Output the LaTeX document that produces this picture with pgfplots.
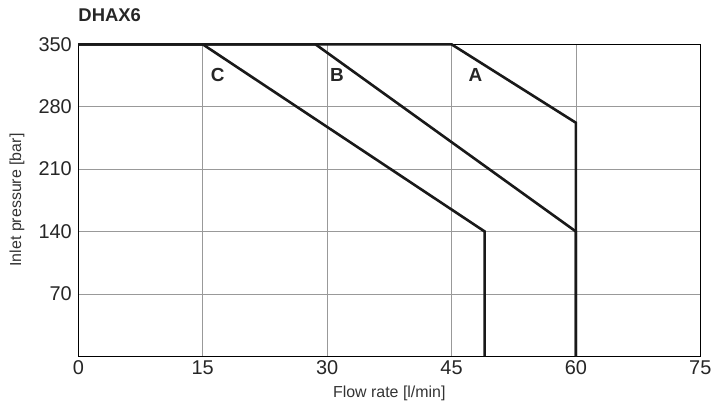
\documentclass[border=0pt]{standalone}
\usepackage{fontspec}
\setmainfont{Liberation Sans}
\usepackage{pgfplots}
\pgfplotsset{compat=1.18}
\begin{document}
\begin{tikzpicture}
\begin{axis}[
  at={(0,0)}, anchor=south west,
  scale only axis,
  width=622bp, height=312bp,
  xmin=0, xmax=75, ymin=0, ymax=350,
  xtick={0,15,30,45,60,75},
  ytick={70,140,210,280,350},
  /pgf/number format/assume math mode=true,
  tick label style={font=\fontsize{20}{21}\selectfont, text=black!85},
  major tick length=0pt,
  grid=major,
  major grid style={gray!80, line width=0.8bp},
  axis line style={black, line width=1.3bp},
  xticklabel style={yshift=-1bp},
  yticklabel style={xshift=-3bp},
  xlabel={Flow rate [l/min]},
  ylabel={Inlet pressure [bar]},
  label style={font=\fontsize{16}{17}\selectfont, text=black!80},
  xlabel style={at={(axis description cs:0.5,-0.1186)}, anchor=center},
  ylabel style={at={(axis description cs:-0.0986,0.501)}, anchor=center},
  clip=false,
]
\addplot[black!90, line width=2.6bp] coordinates {(0,350) (45,350) (60,262) (60,0)};
\addplot[black!90, line width=2.6bp] coordinates {(0,350) (28.6,350) (60,140) (60,0)};
\addplot[black!90, line width=2.6bp] coordinates {(0,350) (15,350) (49,140) (49,0)};
\node[font=\bfseries\fontsize{19}{20}\selectfont, text=black!85] at (axis cs:16.8,315.7) {C};
\node[font=\bfseries\fontsize{19}{20}\selectfont, text=black!85] at (axis cs:31.2,315.7) {B};
\node[font=\bfseries\fontsize{19}{20}\selectfont, text=black!85] at (axis cs:47.9,315.7) {A};
\node[font=\bfseries\fontsize{18.5}{19}\selectfont, text=black!85, anchor=west, inner sep=0pt] at (axis description cs:0.0,1.094) {DHAX6};
\end{axis}
\pgfresetboundingbox
\useasboundingbox (-78.3bp,-53.7bp) rectangle (641.7bp,356.3bp);
\end{tikzpicture}
\end{document}
